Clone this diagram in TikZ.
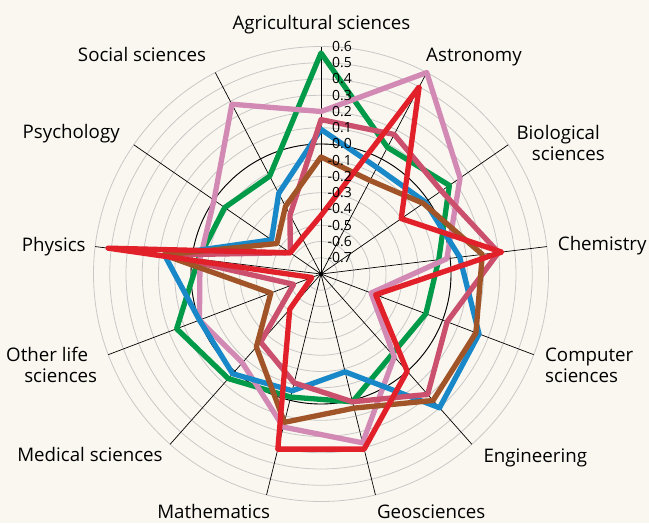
\documentclass[tikz,border=0pt]{standalone}
\usepackage{fontspec}
\setmainfont{Open Sans}
\definecolor{bgc}{RGB}{250,247,240}
\definecolor{gridgray}{RGB}{200,200,200}
\definecolor{sgreen}{RGB}{0,154,72}
\definecolor{spink}{RGB}{210,138,180}
\definecolor{sblue}{RGB}{24,136,200}
\definecolor{srose}{RGB}{202,80,110}
\definecolor{sbrown}{RGB}{160,84,40}
\definecolor{sred}{RGB}{225,32,42}
\newcommand\radarseries[3]{%
  \draw[serie,#1] (90:{(#2+0.8)*162.5})
    \foreach \v [count=\i] in {#3} { -- ({90-\i*360/13}:{(\v+0.8)*162.5}) } -- cycle;}
\begin{document}
\begin{tikzpicture}[x=1pt,y=1pt,
  gridcircle/.style={draw=gridgray,line width=0.8pt},
  zerocircle/.style={draw=black,line width=0.9pt},
  axisline/.style={draw=black,line width=0.7pt},
  serie/.style={line width=5.3pt,line join=round},
  ticklabel/.style={font=\fontsize{14}{14}\selectfont,inner sep=0pt,anchor=west},
  catlabel/.style={font=\fontsize{18.7}{21}\selectfont,inner sep=0pt}]
\fill[bgc] (-321,-249) rectangle (328,274);
\useasboundingbox (-321,-249) rectangle (328,274);
% grid circles
\foreach \k in {1,...,14} {\draw[gridcircle] (0,0) circle ({\k*16.25});}
\draw[zerocircle] (0,0) circle (130);
% axes
\foreach \i in {0,...,12} {\draw[axisline] (0,0) -- ({90-\i*360/13}:227.5);}
\fill[black] (0,0) circle (2.2);
% data series: Agri, Astro, Bio, Chem, Comp, Eng, Geo, Math, Med, OLS, Phys, Psych, Social
\radarseries{sgreen}{0.56}{0.08,0.16,-0.07,-0.11,-0.14,0.01,-0.02,0.06,0.15,-0.04,-0.08,-0.12}
\radarseries{spink}{0.20}{0.60,0.24,-0.02,-0.47,-0.12,0.27,0.17,-0.07,0.00,-0.05,0.00,0.38}
\radarseries{sblue}{0.09}{-0.06,-0.02,0.06,0.24,0.30,-0.18,-0.06,0.02,0.00,0.17,-0.43,-0.24}
\radarseries{srose}{0.15}{0.17,0.10,0.30,0.03,0.19,0.01,-0.11,-0.24,-0.62,0.17,-0.57,-0.39}
\radarseries{sbrown}{-0.08}{-0.15,-0.035,0.20,0.22,0.24,0.05,0.14,-0.20,-0.47,0.175,-0.47,-0.33}
\radarseries{sred}{-0.44}{0.50,-0.20,0.32,-0.44,0.00,0.31,0.31,-0.51,-0.74,0.52,-0.57,-0.55}
% tick labels (on top of the series)
\foreach \v/\t [count=\j] in {0.6/0.6,0.5/0.5,0.4/0.4,0.3/0.3,0.2/0.2,0.1/0.1,0.0/0.0,
  -0.1/\llap{-}0.1,-0.2/\llap{-}0.2,-0.3/\llap{-}0.3,-0.4/\llap{-}0.4,-0.5/\llap{-}0.5,
  -0.6/\llap{-}0.6,-0.7/\llap{-}0.7}
  {\node[ticklabel] (tick\j) at (11,{(\v+0.8)*162.5}) {\t};}
% category labels
\node[catlabel,anchor=base] (agri) at (0.5,245) {Agricultural sciences};
\node[catlabel,anchor=base] (astro) at (153,212.4) {Astronomy};
\node[catlabel,anchor=base east,align=right] (bio) at (284,114) {Biological\hspace*{5pt}\\sciences};
\node[catlabel,anchor=base] (chem) at (281.2,23.7) {Chemistry};
\node[catlabel,anchor=base west,align=left] (comp) at (224,-108.7) {Computer\\sciences};
\node[catlabel,anchor=base] (eng) at (214.3,-188.3) {Engineering};
\node[catlabel,anchor=base] (geo) at (110.2,-244.3) {Geosciences};
\node[catlabel,anchor=base] (math) at (-107.3,-244.3) {Mathematics};
\node[catlabel,anchor=base] (med) at (-231,-187.7) {Medical sciences};
\node[catlabel,anchor=base east,align=right] (ols) at (-223.7,-108.7) {Other life\hspace*{9pt}\\sciences};
\node[catlabel,anchor=base] (phys) at (-267.2,22.3) {Physics};
\node[catlabel,anchor=base] (psych) at (-249.8,135.7) {Psychology};
\node[catlabel,anchor=base] (soc) at (-179,212.3) {Social sciences};
\end{tikzpicture}
\end{document}
